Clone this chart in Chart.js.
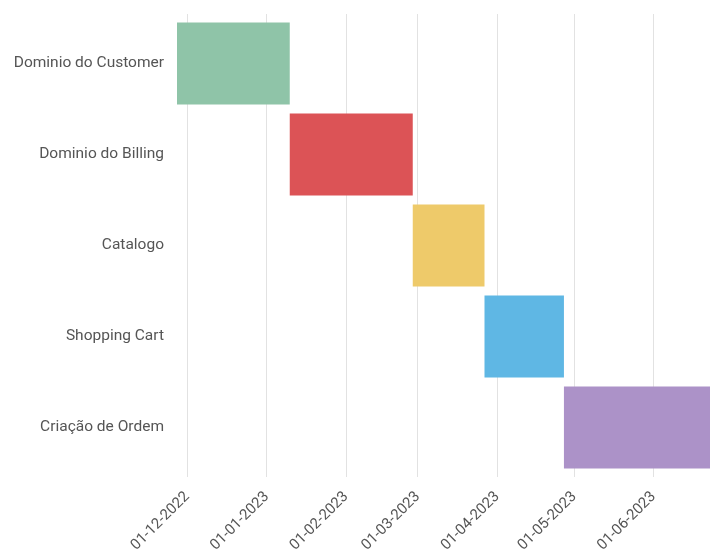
<!DOCTYPE html>
<html>
<head>
<meta charset="utf-8">
<script src="https://cdn.jsdelivr.net/npm/chart.js@4/dist/chart.umd.min.js"></script>
<style>
  html, body { margin: 0; padding: 0; background: #fff; }
  #wrap { width: 710px; height: 549px; }
</style>
</head>
<body>
<div id="wrap"><canvas id="ganttCanvas"></canvas></div>
<script>
// tasks and their start / end dates (yyyy-mm-dd)
const tasks = ["Dominio do Customer", "Dominio do Billing", "Catalogo", "Shopping Cart", "Criação de Ordem"];
const startDates = ["2022-11-27", "2023-01-10", "2023-02-27", "2023-03-27", "2023-04-27"];
const endDates = ["2023-01-10", "2023-02-27", "2023-03-27", "2023-04-27", "2023-06-23"];
const tickDates = ["2022-12-01", "2023-01-01", "2023-02-01", "2023-03-01", "2023-04-01", "2023-05-01", "2023-06-01"];
const barColors = ["#8fc4a8", "#dc5356", "#eeca6a", "#5fb7e4", "#ac92c8"];

function toTime(d) {
  let p = d.split("-");
  return Date.UTC(+p[0], +p[1] - 1, +p[2]);
}
function fmtDate(v) {
  let d = new Date(v);
  let dd = String(d.getUTCDate()).padStart(2, "0");
  let mm = String(d.getUTCMonth() + 1).padStart(2, "0");
  return `${dd}-${mm}-${d.getUTCFullYear()}`;
}

const ranges = startDates.map((s, i) => [toTime(s), toTime(endDates[i])]);
const minTime = Math.min(...startDates.map(toTime));
const maxTime = Math.max(...endDates.map(toTime));
const tickTimes = tickDates.map(toTime);
const monthTicks = s => { s.ticks = tickTimes.map(v => ({ value: v })); };

Chart.defaults.font.family = "Roboto";
Chart.defaults.color = "#555";

let ganttChart = new Chart(document.getElementById("ganttCanvas"), {
  type: "bar",
  data: {
    labels: tasks,
    datasets: [{
      data: ranges,
      backgroundColor: barColors,
      borderWidth: 0,
      barPercentage: 1,
      categoryPercentage: 0.9,
    }]
  },
  options: {
    indexAxis: "y",
    responsive: true,
    maintainAspectRatio: false,
    animation: false,
    layout: { padding: { top: 14, right: 0, bottom: 0, left: 0 } },
    scales: {
      x: {
        type: "linear",
        min: minTime,
        max: maxTime,
        border: { display: false },
        grid: { color: "#e2e2e2", tickLength: 4 },
        ticks: {
          autoSkip: false,
          maxRotation: 45,
          minRotation: 45,
          padding: 11,
          font: { size: 15 },
          callback: v => fmtDate(v),
        },
        afterBuildTicks: monthTicks,
        afterFit: s => { s.height = 76; },
      },
      // only draws the short tick marks above the plot
      xTop: {
        type: "linear",
        position: "top",
        min: minTime,
        max: maxTime,
        border: { display: false },
        grid: { color: "#e2e2e2", tickLength: 4, drawOnChartArea: false },
        ticks: { display: false },
        afterBuildTicks: monthTicks,
      },
      y: {
        border: { display: false },
        grid: { display: false },
        ticks: { font: { size: 15.5 }, padding: 5 },
        afterFit: s => { s.width = 177; },
      }
    },
    plugins: {
      legend: { display: false },
      tooltip: { enabled: false },
    }
  }
});
</script>
</body>
</html>
